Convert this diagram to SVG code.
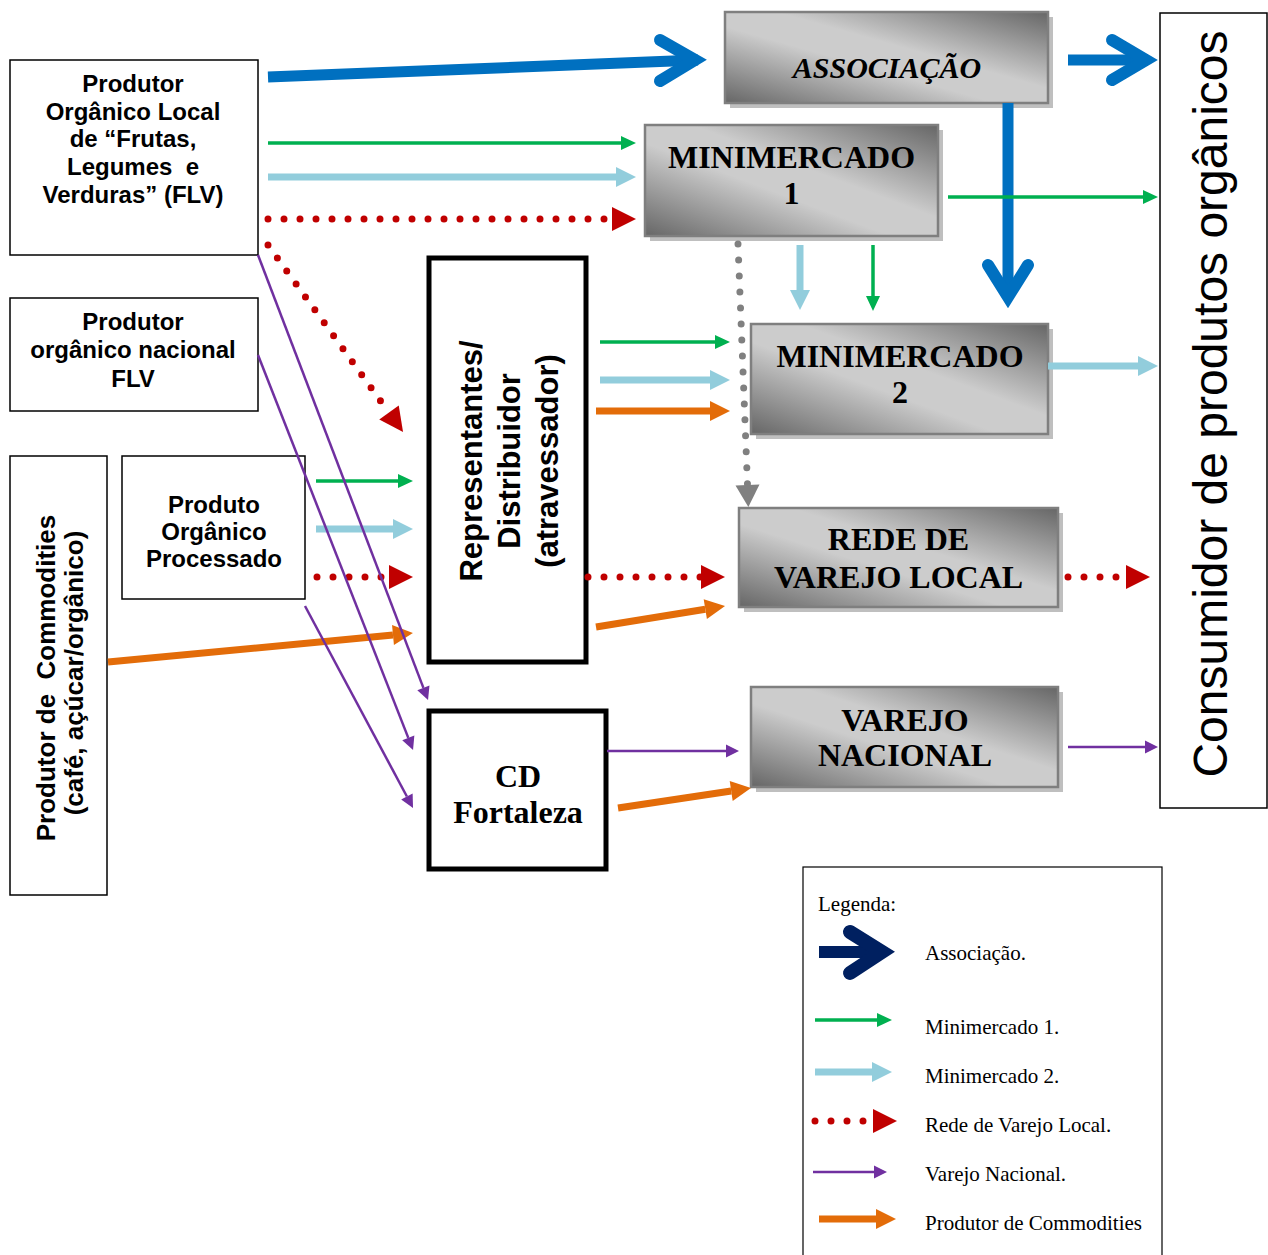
<svg xmlns="http://www.w3.org/2000/svg" width="1268" height="1255" viewBox="0 0 1268 1255">
  <defs>
    <linearGradient id="boxGrad" x1="0" y1="1" x2="1" y2="0">
      <stop offset="0" stop-color="#666666"/>
      <stop offset="0.42" stop-color="#cccccc"/>
      <stop offset="0.58" stop-color="#cccccc"/>
      <stop offset="1" stop-color="#666666"/>
    </linearGradient>
    <marker id="hGreen" markerUnits="userSpaceOnUse" markerWidth="15" markerHeight="14" refX="0" refY="7" orient="auto" overflow="visible">
      <path d="M0,0 L15,7 L0,14 Z" fill="#00B050"/>
    </marker>
    <marker id="hBlue" markerUnits="userSpaceOnUse" markerWidth="20" markerHeight="20" refX="0" refY="10" orient="auto" overflow="visible">
      <path d="M0,0 L20,10 L0,20 Z" fill="#92CDDC"/>
    </marker>
    <marker id="hRed" markerUnits="userSpaceOnUse" markerWidth="24" markerHeight="24" refX="0" refY="12" orient="auto" overflow="visible">
      <path d="M0,0 L24,12 L0,24 Z" fill="#C00000"/>
    </marker>
    <marker id="hOrange" markerUnits="userSpaceOnUse" markerWidth="20" markerHeight="20" refX="0" refY="10" orient="auto" overflow="visible">
      <path d="M0,0 L20,10 L0,20 Z" fill="#E36C09"/>
    </marker>
    <marker id="hPurple" markerUnits="userSpaceOnUse" markerWidth="13" markerHeight="13" refX="0" refY="6.5" orient="auto" overflow="visible">
      <path d="M0,0 L13,6.5 L0,13 Z" fill="#7030A0"/>
    </marker>
    <marker id="hGray" markerUnits="userSpaceOnUse" markerWidth="22" markerHeight="24" refX="0" refY="12" orient="auto" overflow="visible">
      <path d="M0,0 L22,12 L0,24 Z" fill="#808080"/>
    </marker>
  </defs>
  <style>
    .plain{fill:#ffffff;stroke:#000000;stroke-width:1.5}
    .heavy{fill:#ffffff;stroke:#000000;stroke-width:5}
    .shade{fill:#bfbfbf}
    .grad{fill:url(#boxGrad);stroke:#7f7f7f;stroke-width:2.5}
    .sans{font-family:"Liberation Sans",Arial,sans-serif;font-weight:bold;font-size:24px;text-anchor:middle;fill:#000}
    .serif{font-family:"Liberation Serif","Times New Roman",serif;font-weight:bold;font-size:32px;text-anchor:middle;fill:#000}
    .leg{font-family:"Liberation Serif","Times New Roman",serif;font-size:21px;fill:#000}
    .g{stroke:#00B050;stroke-width:3.5;fill:none}
    .lb{stroke:#92CDDC;stroke-width:7;fill:none}
    .r{stroke:#C00000;stroke-width:7;stroke-linecap:round;stroke-dasharray:0 16;fill:none}
    .gy{stroke:#808080;stroke-width:7;stroke-linecap:round;stroke-dasharray:0 16;fill:none}
    .o{stroke:#E36C09;stroke-width:7;fill:none}
    .p{stroke:#7030A0;stroke-width:2.5;fill:none}
    .bl{stroke:#0070C0;stroke-width:11;fill:none}
    .chev{stroke:#0070C0;stroke-width:12;stroke-linecap:round;stroke-linejoin:miter;fill:none}
  </style>

  <!-- producers -->
  <g id="produtor-local">
    <rect class="plain" x="10" y="60" width="248" height="195"/>
    <text class="sans" x="133" y="92">Produtor</text>
    <text class="sans" x="133" y="120">Orgânico Local</text>
    <text class="sans" x="133" y="147">de “Frutas,</text>
    <text class="sans" x="133" y="175" xml:space="preserve">Legumes  e</text>
    <text class="sans" x="133" y="203">Verduras” (FLV)</text>
  </g>
  <g id="produtor-nacional">
    <rect class="plain" x="10" y="298" width="248" height="113"/>
    <text class="sans" x="133" y="330">Produtor</text>
    <text class="sans" x="133" y="358">orgânico nacional</text>
    <text class="sans" x="133" y="387">FLV</text>
  </g>
  <g id="produtor-commodities">
    <rect class="plain" x="10" y="456" width="97" height="439"/>
    <text class="sans" style="font-size:26px" transform="translate(55,678) rotate(-90)" x="0" y="0" xml:space="preserve">Produtor de  Commodities</text>
    <text class="sans" style="font-size:26px" transform="translate(83,673) rotate(-90)" x="0" y="0">(café, açúcar/orgânico)</text>
  </g>
  <g id="produto-processado">
    <rect class="plain" x="122" y="456" width="183" height="143"/>
    <text class="sans" x="214" y="513">Produto</text>
    <text class="sans" x="214" y="540">Orgânico</text>
    <text class="sans" x="214" y="567">Processado</text>
  </g>

  <!-- intermediaries -->
  <g id="representantes">
    <rect class="heavy" x="429" y="258" width="157" height="404"/>
    <g transform="translate(0,461)">
      <text class="sans" style="font-size:31px" transform="translate(482,0) rotate(-90)">Representantes/</text>
      <text class="sans" style="font-size:31px" transform="translate(520,0) rotate(-90)">Distribuidor</text>
      <text class="sans" style="font-size:31px" transform="translate(558,0) rotate(-90)">(atravessador)</text>
    </g>
  </g>
  <g id="cd-fortaleza">
    <rect class="heavy" x="429" y="711" width="177" height="158"/>
    <text class="serif" x="518" y="787">CD</text>
    <text class="serif" x="518" y="823">Fortaleza</text>
  </g>

  <!-- retail outlets -->
  <g id="associacao">
    <rect class="shade" x="730" y="17" width="323" height="91"/>
    <rect class="grad" x="725" y="12" width="323" height="91"/>
    <text class="serif" style="font-style:italic;font-size:30px" x="887" y="78">ASSOCIAÇÃO</text>
  </g>
  <g id="minimercado-1">
    <rect class="shade" x="650" y="130" width="293" height="111"/>
    <rect class="grad" x="645" y="125" width="293" height="111"/>
    <text class="serif" x="791.5" y="168">MINIMERCADO</text>
    <text class="serif" x="791.5" y="204">1</text>
  </g>
  <g id="minimercado-2">
    <rect class="shade" x="756" y="329" width="297" height="110"/>
    <rect class="grad" x="751" y="324" width="297" height="110"/>
    <text class="serif" x="900" y="367">MINIMERCADO</text>
    <text class="serif" x="900" y="403">2</text>
  </g>
  <g id="rede-varejo-local">
    <rect class="shade" x="744" y="513" width="319" height="99"/>
    <rect class="grad" x="739" y="508" width="319" height="99"/>
    <text class="serif" x="898.5" y="550">REDE DE</text>
    <text class="serif" x="898.5" y="588">VAREJO LOCAL</text>
  </g>
  <g id="varejo-nacional">
    <rect class="shade" x="756" y="692" width="307" height="100"/>
    <rect class="grad" x="751" y="687" width="307" height="100"/>
    <text class="serif" x="905" y="731">VAREJO</text>
    <text class="serif" x="905" y="766">NACIONAL</text>
  </g>

  <!-- final consumer -->
  <g id="consumidor">
    <rect class="plain" x="1160" y="13" width="107" height="795"/>
    <text transform="translate(1227,404) rotate(-90)" x="0" y="0" text-anchor="middle" style="font-family:'Liberation Sans',Arial,sans-serif;font-size:48px">Consumidor de produtos orgânicos</text>
  </g>

  <!-- flows -->
  <g id="connectors">
    <!-- associação (open chevron heads) -->
    <path class="bl" d="M268,77 L698,60"/>
    <polyline class="chev" points="660,40 695,60 660,81"/>
    <path class="bl" d="M1068,60 H1142"/>
    <polyline class="chev" points="1112,40 1146,60 1112,80"/>
    <path class="bl" d="M1008,103 V294"/>
    <polyline class="chev" points="988,265 1008,297 1028,265"/>

    <!-- minimercado 1 -->
    <path class="g" d="M268,143 H621" marker-end="url(#hGreen)"/>
    <path class="g" d="M948,197 H1143" marker-end="url(#hGreen)"/>
    <path class="g" d="M873,245 V296" marker-end="url(#hGreen)"/>
    <path class="g" d="M600,342 H715" marker-end="url(#hGreen)"/>
    <path class="g" d="M316,481 H398" marker-end="url(#hGreen)"/>

    <!-- minimercado 2 -->
    <path class="lb" d="M268,177 H616" marker-end="url(#hBlue)"/>
    <path class="lb" d="M800,245 V290" marker-end="url(#hBlue)"/>
    <path class="lb" d="M600,380 H710" marker-end="url(#hBlue)"/>
    <path class="lb" d="M1048,366 H1138" marker-end="url(#hBlue)"/>
    <path class="lb" d="M316,529 H393" marker-end="url(#hBlue)"/>

    <!-- rede de varejo local -->
    <path class="r" d="M268,219 H612" marker-end="url(#hRed)"/>
    <path class="r" d="M268,245 L389,412.5" marker-end="url(#hRed)"/>
    <path class="r" d="M317,577 H389" marker-end="url(#hRed)"/>
    <path class="r" d="M588,577 H701" marker-end="url(#hRed)"/>
    <path class="r" d="M1068,577 H1126" marker-end="url(#hRed)"/>
    <path class="gy" d="M738,244 L747.5,485" marker-end="url(#hGray)"/>

    <!-- produtor de commodities -->
    <path class="o" d="M596,411 H710" marker-end="url(#hOrange)"/>
    <path class="o" d="M108,662 L393,635" marker-end="url(#hOrange)"/>
    <path class="o" d="M596,627 L705.3,609.2" marker-end="url(#hOrange)"/>
    <path class="o" d="M618,808 L731.2,791" marker-end="url(#hOrange)"/>

    <!-- varejo nacional -->
    <path class="p" d="M258,255 L423.4,687.9" marker-end="url(#hPurple)"/>
    <path class="p" d="M258,355 L408.3,737.9" marker-end="url(#hPurple)"/>
    <path class="p" d="M305,606 L406.9,796.5" marker-end="url(#hPurple)"/>
    <path class="p" d="M607,751 H726" marker-end="url(#hPurple)"/>
    <path class="p" d="M1068,747 H1145" marker-end="url(#hPurple)"/>
  </g>

  <!-- key -->
  <g id="legenda">
    <rect x="803" y="867" width="359" height="400" fill="#ffffff" stroke="#000000" stroke-width="1.2"/>
    <text class="leg" x="818" y="911">Legenda:</text>
    <path d="M819,952 H880" stroke="#002060" stroke-width="12" fill="none"/>
    <polyline points="850,932 882,952 850,973" stroke="#002060" stroke-width="14" stroke-linecap="round" stroke-linejoin="miter" fill="none"/>
    <text class="leg" x="925" y="960">Associação.</text>
    <path class="g" d="M815,1020 H877" marker-end="url(#hGreen)"/>
    <text class="leg" x="925" y="1034">Minimercado 1.</text>
    <path class="lb" d="M815,1072 H872" marker-end="url(#hBlue)"/>
    <text class="leg" x="925" y="1083">Minimercado 2.</text>
    <path class="r" d="M815,1121 H873" marker-end="url(#hRed)"/>
    <text class="leg" x="925" y="1132">Rede de Varejo Local.</text>
    <path class="p" d="M813,1172 H874" marker-end="url(#hPurple)"/>
    <text class="leg" x="925" y="1181">Varejo Nacional.</text>
    <path class="o" d="M819,1219 H876" marker-end="url(#hOrange)"/>
    <text class="leg" x="925" y="1230">Produtor de Commodities</text>
  </g>
</svg>
